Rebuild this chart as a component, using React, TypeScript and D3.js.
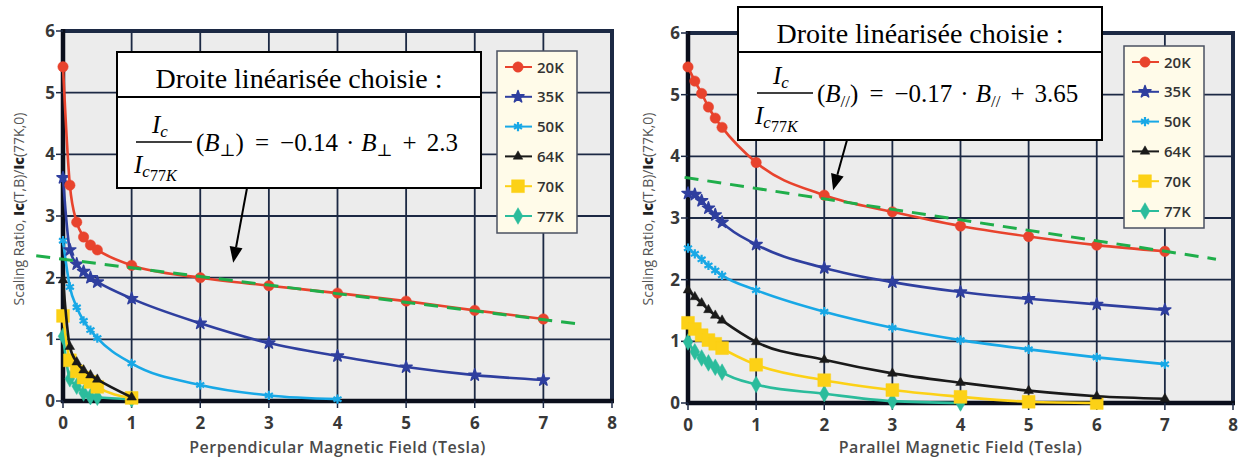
import React from 'react';
import * as d3 from 'd3';

// ---------- DATA ----------
const FIELDS = [0, 0.1, 0.2, 0.3, 0.4, 0.5, 1, 2, 3, 4, 5, 6, 7];
const TEMPS = ['20K', '35K', '50K', '64K', '70K', '77K'];
const X_TICKS = [0, 1, 2, 3, 4, 5, 6, 7, 8];
const Y_TICKS = [0, 1, 2, 3, 4, 5, 6];

// Perpendicular field
const perp20K = [5.42, 3.5, 2.9, 2.66, 2.53, 2.45, 2.2, 2.0, 1.87, 1.75, 1.62, 1.47, 1.33];
const perp35K = [3.62, 2.45, 2.22, 2.1, 2.0, 1.93, 1.66, 1.26, 0.94, 0.73, 0.55, 0.42, 0.34];
const perp50K = [2.6, 1.85, 1.52, 1.3, 1.15, 1.02, 0.61, 0.26, 0.09, 0.03];
const perp64K = [1.96, 0.88, 0.63, 0.5, 0.42, 0.35, 0.06];
const perp70K = [1.38, 0.66, 0.48, 0.38, 0.31, 0.23, 0.05];
const perp77K = [1.05, 0.36, 0.24, 0.13, 0.07, 0.06, 0.03];

// Parallel field
const para20K = [5.45, 5.22, 5.02, 4.8, 4.62, 4.47, 3.9, 3.37, 3.1, 2.87, 2.7, 2.56, 2.46];
const para35K = [3.4, 3.38, 3.28, 3.16, 3.05, 2.93, 2.57, 2.19, 1.96, 1.8, 1.69, 1.6, 1.51];
const para50K = [2.51, 2.42, 2.33, 2.23, 2.15, 2.07, 1.83, 1.48, 1.22, 1.02, 0.87, 0.74, 0.63];
const para64K = [1.83, 1.72, 1.62, 1.51, 1.42, 1.34, 0.99, 0.7, 0.48, 0.33, 0.2, 0.11, 0.07];
const para70K = [1.3, 1.2, 1.1, 1.02, 0.96, 0.89, 0.62, 0.37, 0.21, 0.1, 0.02, 0.0];
const para77K = [0.99, 0.83, 0.73, 0.65, 0.58, 0.5, 0.3, 0.15, 0.03, 0.0];

// Fitted lines
const perpFit = { slope: -0.14, intercept: 2.3, from: -0.39, to: 7.5 };
const paraFit = { slope: -0.17, intercept: 3.65, from: -0.05, to: 7.75 };

// ---------- STYLE ----------
const COLORS = ['#e8432d', '#2f3f9f', '#18a8e6', '#1a1a1a', '#fcd116', '#2bbc9c'];
const SYMBOLS = [d3.symbolCircle, d3.symbolStar, d3.symbolAsterisk, d3.symbolTriangle, d3.symbolSquare, d3.symbolDiamond];
const SYM_SIZE = [85, 45, 60, 40, 165, 80];
const GRID = '#1c2944';
const SANS = '"Open Sans", "Noto Sans", sans-serif';
const SERIF = '"Liberation Serif", "DejaVu Serif", serif';

type Panel = {
  key: string;
  x0: number; x1: number; y0: number; y1: number;
  series: number[][];
  fit: { slope: number; intercept: number; from: number; to: number };
  xTitle: string;
  yTitleX: number;
  legend: { x: number; y: number };
  box: { x: number; y: number; w: number; h: number; div: number; bar: number };
  eq: { coef: string; cst: string; sub: string };
  arrowFrom: [number, number];
  arrowTip: [number, number]; // data coords
};

const panels: Panel[] = [
  {
    key: 'perp', x0: 63, x1: 612, y0: 401, y1: 31,
    series: [perp20K, perp35K, perp50K, perp64K, perp70K, perp77K],
    fit: perpFit,
    xTitle: 'Perpendicular Magnetic Field (Tesla)',
    yTitleX: 19,
    legend: { x: 497, y: 51 },
    box: { x: 117, y: 52, w: 364, h: 136, div: 45, bar: 45 },
    eq: { coef: '−0.14', cst: '2.3', sub: '⊥' },
    arrowFrom: [247, 188],
    arrowTip: [2.48, 2.24],
  },
  {
    key: 'para', x0: 688, x1: 1233, y0: 403, y1: 33,
    series: [para20K, para35K, para50K, para64K, para70K, para77K],
    fit: paraFit,
    xTitle: 'Parallel Magnetic Field (Tesla)',
    yTitleX: 648,
    legend: { x: 1124, y: 46 },
    box: { x: 738, y: 7, w: 364, h: 133, div: 45, bar: 41 },
    eq: { coef: '−0.17', cst: '3.65', sub: '//' },
    arrowFrom: [847, 140],
    arrowTip: [2.13, 3.45],
  },
];

function Marker({ i, x, y }: { i: number; x: number; y: number }) {
  const d = d3.symbol(SYMBOLS[i], SYM_SIZE[i])() as string;
  const stroked = i === 2;
  return (
    <path
      d={d}
      transform={`translate(${x},${y})`}
      fill={stroked ? 'none' : COLORS[i]}
      stroke={COLORS[i]}
      strokeWidth={stroked ? 2.2 : i === 1 ? 1.5 : 0.5}
      strokeLinejoin="round"
    />
  );
}

function PanelView({ p }: { p: Panel }) {
  const x = d3.scaleLinear().domain([0, 8]).range([p.x0, p.x1]);
  const y = d3.scaleLinear().domain([0, 6]).range([p.y0, p.y1]);
  const line = d3
    .line<[number, number]>()
    .x((d) => x(d[0]))
    .y((d) => y(d[1]))
    .curve(d3.curveMonotoneX);

  const fitPts: [number, number][] = [
    [p.fit.from, p.fit.intercept + p.fit.slope * p.fit.from],
    [p.fit.to, p.fit.intercept + p.fit.slope * p.fit.to],
  ];

  const tip: [number, number] = [x(p.arrowTip[0]), y(p.arrowTip[1])];
  const [ax, ay] = p.arrowFrom;
  const ang = Math.atan2(tip[1] - ay, tip[0] - ax);
  const hl = 16, hw = 6.5;
  const bx = tip[0] - hl * Math.cos(ang), by = tip[1] - hl * Math.sin(ang);
  const head = `M${tip[0]},${tip[1]} L${bx + hw * Math.sin(ang)},${by - hw * Math.cos(ang)} L${bx - hw * Math.sin(ang)},${by + hw * Math.cos(ang)} Z`;

  const b = p.box;
  const barY = b.y + b.div + b.bar;
  const eqBase = barY + 9;
  const fs = 25;

  return (
    <g>
      {/* plot background */}
      <rect x={p.x0} y={p.y1} width={p.x1 - p.x0} height={p.y0 - p.y1} fill="#ececec" />
      {/* grid */}
      {X_TICKS.map((t) => (
        <line key={'gx' + t} x1={x(t)} x2={x(t)} y1={p.y1} y2={p.y0} stroke={GRID} strokeWidth={1.8} />
      ))}
      {Y_TICKS.map((t) => (
        <line key={'gy' + t} x1={p.x0} x2={p.x1} y1={y(t)} y2={y(t)} stroke={GRID} strokeWidth={1.8} />
      ))}
      {/* frame */}
      <line x1={p.x0} x2={p.x1 + 2} y1={p.y1} y2={p.y1} stroke={GRID} strokeWidth={4} />
      <line x1={p.x1} x2={p.x1} y1={p.y1} y2={p.y0} stroke={GRID} strokeWidth={4} />
      <line x1={p.x0} x2={p.x0} y1={p.y1 - 2} y2={p.y0 + 2} stroke="#0b0f1c" strokeWidth={4.5} />
      <line x1={p.x0 - 2} x2={p.x1 + 2} y1={p.y0} y2={p.y0} stroke="#0b0f1c" strokeWidth={4.5} />
      {/* ticks */}
      {X_TICKS.map((t) => (
        <g key={'tx' + t}>
          <line x1={x(t)} x2={x(t)} y1={p.y0} y2={p.y0 + 7} stroke={GRID} strokeWidth={1.5} />
          <text x={x(t)} y={p.y0 + 28} textAnchor="middle" fontFamily={SANS} fontWeight={700} fontSize={17} fill="#383838">
            {t}
          </text>
        </g>
      ))}
      {Y_TICKS.map((t) => (
        <g key={'ty' + t}>
          <line x1={p.x0 - 7} x2={p.x0} y1={y(t)} y2={y(t)} stroke={GRID} strokeWidth={1.5} />
          <text x={p.x0 - 8} y={y(t) + 6} textAnchor="end" fontFamily={SANS} fontWeight={700} fontSize={17} fill="#383838">
            {t}
          </text>
        </g>
      ))}
      {/* axis titles */}
      <text x={(p.x0 + p.x1) / 2} y={453} textAnchor="middle" fontFamily={SANS} fontWeight={600} fontSize={16} letterSpacing={0.5} fill="#4a4a4a">
        {p.xTitle}
      </text>
      <text
        transform={`translate(${p.yTitleX + 5},${209}) rotate(-90)`}
        textAnchor="middle"
        fontFamily={SANS}
        fontWeight={500}
        fontSize={14}
        fill="#555"
      >
        <tspan>Scaling Ratio, </tspan>
        <tspan fontWeight={800} fill="#222">Ic</tspan>
        <tspan>(T,B)/</tspan>
        <tspan fontWeight={800} fill="#222">Ic</tspan>
        <tspan>(77K,0)</tspan>
      </text>
      {/* series */}
      {p.series.map((vals, i) => {
        const pts: [number, number][] = vals.map((v, k) => [FIELDS[k], v]);
        return (
          <g key={'s' + i}>
            <path d={line(pts) as string} fill="none" stroke={COLORS[i]} strokeWidth={2.6} />
            {pts.map((pt, k) => (
              <Marker key={k} i={i} x={x(pt[0])} y={y(pt[1])} />
            ))}
          </g>
        );
      }).reverse()}
      {/* fitted line */}
      <path
        d={d3.line()(fitPts.map((d) => [x(d[0]), y(d[1])]) as [number, number][]) as string}
        stroke="#1fae4a"
        strokeWidth={3}
        strokeDasharray="14 9"
        fill="none"
      />
      {/* legend */}
      <rect x={p.legend.x} y={p.legend.y} width={80} height={182} fill="#fffbe9" stroke="#4a5060" strokeWidth={1.5} />
      {TEMPS.map((t, i) => {
        const ly = p.legend.y + 16 + i * 29.8;
        return (
          <g key={'lg' + t}>
            <line x1={p.legend.x + 8} x2={p.legend.x + 35} y1={ly} y2={ly} stroke={COLORS[i]} strokeWidth={2} />
            <Marker i={i} x={p.legend.x + 21} y={ly} />
            <text x={p.legend.x + 40} y={ly + 5.5} fontFamily={SANS} fontWeight={600} fontSize={15} fill="#333">
              {t}
            </text>
          </g>
        );
      })}
      {/* annotation box */}
      <rect x={b.x} y={b.y} width={b.w} height={b.h} fill="#fff" stroke="#000" strokeWidth={2} />
      <line x1={b.x} x2={b.x + b.w} y1={b.y + b.div} y2={b.y + b.div} stroke="#000" strokeWidth={2} />
      <text x={b.x + b.w / 2} y={b.y + 36} textAnchor="middle" fontFamily={SERIF} fontSize={28} fill="#000">
        Droite linéarisée choisie :
      </text>
      {/* fraction */}
      <line x1={b.x + 19} x2={b.x + 75} y1={barY} y2={barY} stroke="#000" strokeWidth={1.6} />
      <text x={b.x + 35} y={barY - 9} fontFamily={SERIF} fontSize={fs} fontStyle="italic">
        <tspan>I</tspan>
        <tspan fontSize={17} dy={4}>c</tspan>
      </text>
      <text x={b.x + 17} y={barY + 31} fontFamily={SERIF} fontSize={fs} fontStyle="italic">
        <tspan>I</tspan>
        <tspan fontSize={17} dy={4}>c</tspan>
        <tspan fontSize={16} dy={4} fontStyle="normal">77</tspan>
        <tspan fontSize={16}>K</tspan>
      </text>
      <text x={b.x + 79} y={eqBase} fontFamily={SERIF} fontSize={fs} fill="#000">
        <tspan>(</tspan>
        <tspan fontStyle="italic">B</tspan>
        <tspan fontSize={17} dy={5}>{p.eq.sub}</tspan>
        <tspan dy={-5}>)</tspan>
        <tspan dx={11}>=</tspan>
        <tspan dx={11}>{p.eq.coef}</tspan>
        <tspan dx={8}>·</tspan>
        <tspan dx={7} fontStyle="italic">B</tspan>
        <tspan fontSize={17} dy={5}>{p.eq.sub}</tspan>
        <tspan dx={10} dy={-5}>+</tspan>
        <tspan dx={10}>{p.eq.cst}</tspan>
      </text>
      {/* arrow */}
      <line x1={ax} y1={ay} x2={bx} y2={by} stroke="#000" strokeWidth={2} />
      <path d={head} fill="#000" />
    </g>
  );
}

export default function App() {
  return (
    <svg
      width={1248}
      height={464}
      viewBox="0 0 1248 464"
      style={{ position: 'absolute', left: 0, top: 0, background: '#fff' }}
    >
      <rect width={1248} height={464} fill="#fff" />
      {panels.map((p) => (
        <PanelView key={p.key} p={p} />
      ))}
    </svg>
  );
}
